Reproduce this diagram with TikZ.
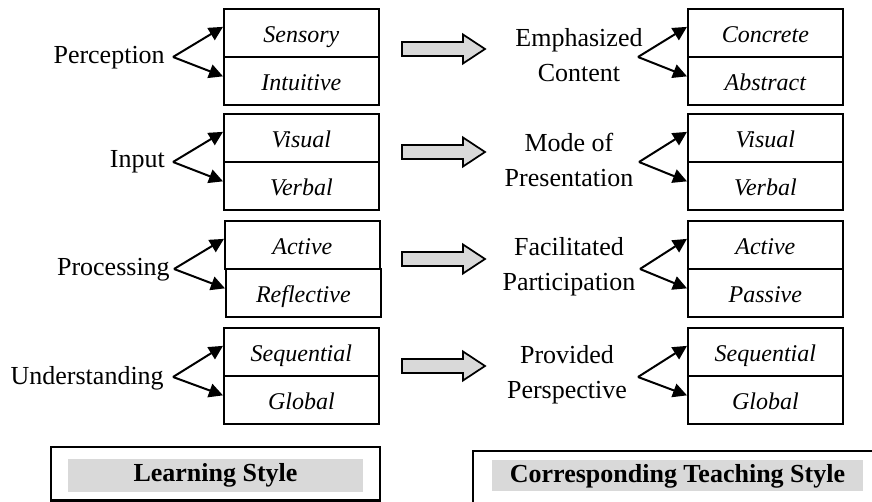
\documentclass[tikz,border=0pt]{standalone}
\usepackage{fontspec}
\setmainfont{Liberation Serif}
\usetikzlibrary{arrows.meta,calc}
\definecolor{lgray}{RGB}{217,217,217}
\begin{document}
\begin{tikzpicture}[x=0.75pt,y=-0.75pt,
  sbox/.style={draw,line width=1.3pt,minimum width=116.25pt,minimum height=36pt,inner sep=0pt,text height=14pt,text depth=0pt,anchor=north west,font=\fontsize{18}{20}\selectfont\itshape},
  lab/.style={inner sep=0pt,font=\fontsize{19.5}{26.25}\selectfont},
  rlab/.style={inner sep=0pt,align=center,font=\fontsize{19.5}{26.25}\selectfont},
  conn/.style={line width=1.5pt,-{Triangle[length=10.5pt,width=10.5pt]}},
  garrow/.style={draw,line width=1.3pt,fill=lgray},
  title/.style={fill=lgray,inner sep=0pt,font=\fontsize{19.5}{22}\selectfont\bfseries}]
\useasboundingbox (0,0) rectangle (872,502);
\clip (0,0) rectangle (872,502);
\fill[white] (0,0) rectangle (872,502);

% ---------- group 1 ----------
\node[sbox] (l1a) at (223,8) {Sensory};
\node[sbox] (l1b) at (223,56.5) {Intuitive};
\node[lab,anchor=east] (l1) at (165,58) {Perception};
\coordinate (o1) at (173,57);
\draw[conn] (o1) -- ($(l1a.west)+(0,-6)$);
\draw[conn] (o1) -- ($(l1b.west)+(0,-5)$);
\node[sbox] (r1a) at (687,8) {Concrete};
\node[sbox] (r1b) at (687,56.5) {Abstract};
\node[rlab] (r1) at (579,55) {Emphasized\\Content};
\coordinate (p1) at (638,57);
\draw[conn] (p1) -- ($(r1a.west)+(0,-6)$);
\draw[conn] (p1) -- ($(r1b.west)+(0,-5)$);
\draw[garrow] (402,42) -- (463,42) -- (463,34.5) -- (485,49) -- (463,63.5) -- (463,56) -- (402,56) -- cycle;

% ---------- group 2 ----------
\node[sbox] (l2a) at (223,113) {Visual};
\node[sbox] (l2b) at (223,161.5) {Verbal};
\node[lab,anchor=east] (l2) at (165,162) {Input};
\coordinate (o2) at (173,162);
\draw[conn] (o2) -- ($(l2a.west)+(0,-6)$);
\draw[conn] (o2) -- ($(l2b.west)+(0,-5)$);
\node[sbox] (r2a) at (687,113) {Visual};
\node[sbox] (r2b) at (687,161.5) {Verbal};
\node[rlab] (r2) at (569,160) {Mode of\\Presentation};
\coordinate (p2) at (639,162);
\draw[conn] (p2) -- ($(r2a.west)+(0,-6)$);
\draw[conn] (p2) -- ($(r2b.west)+(0,-5)$);
\draw[garrow] (402,145) -- (463,145) -- (463,137.5) -- (485,152) -- (463,166.5) -- (463,159) -- (402,159) -- cycle;

% ---------- group 3 ----------
\node[sbox] (l3a) at (224,220) {Active};
\node[sbox] (l3b) at (225,268.5) {Reflective};
\node[lab,anchor=east] (l3) at (170,270) {Processing};
\coordinate (o3) at (174,269);
\draw[conn] (o3) -- ($(l3a.west)+(0,-6)$);
\draw[conn] (o3) -- ($(l3b.west)+(0,-5)$);
\node[sbox] (r3a) at (687,220) {Active};
\node[sbox] (r3b) at (687,268.5) {Passive};
\node[rlab] (r3) at (569,267) {Facilitated\\Participation};
\coordinate (p3) at (640,269);
\draw[conn] (p3) -- ($(r3a.west)+(0,-6)$);
\draw[conn] (p3) -- ($(r3b.west)+(0,-5)$);
\draw[garrow] (402,252) -- (463,252) -- (463,244.5) -- (485,259) -- (463,273.5) -- (463,266) -- (402,266) -- cycle;

% ---------- group 4 ----------
\node[sbox] (l4a) at (223,327) {Sequential};
\node[sbox] (l4b) at (223,375.5) {Global};
\node[lab,anchor=east] (l4) at (164,378) {Understanding};
\coordinate (o4) at (173,377);
\draw[conn] (o4) -- ($(l4a.west)+(0,-6)$);
\draw[conn] (o4) -- ($(l4b.west)+(0,-5)$);
\node[sbox] (r4a) at (687,327) {Sequential};
\node[sbox] (r4b) at (687,375.5) {Global};
\node[rlab] (r4) at (567,375) {Provided\\Perspective};
\coordinate (p4) at (638,377);
\draw[conn] (p4) -- ($(r4a.west)+(0,-6)$);
\draw[conn] (p4) -- ($(r4b.west)+(0,-5)$);
\draw[garrow] (402,359) -- (463,359) -- (463,351.5) -- (485,366) -- (463,380.5) -- (463,373) -- (402,373) -- cycle;

% ---------- legends ----------
\draw[line width=1.7pt] (51,447) rectangle (380,500.5);
\node[title,minimum width=221.25pt,minimum height=24.75pt] (ls) at (215.5,475.5) {Learning Style};
\draw[line width=1.7pt] (473,451) rectangle (890,520);
\node[title,minimum width=278.25pt,minimum height=23.25pt] (ts) at (677.5,476) {Corresponding Teaching Style};
\end{tikzpicture}
\end{document}
